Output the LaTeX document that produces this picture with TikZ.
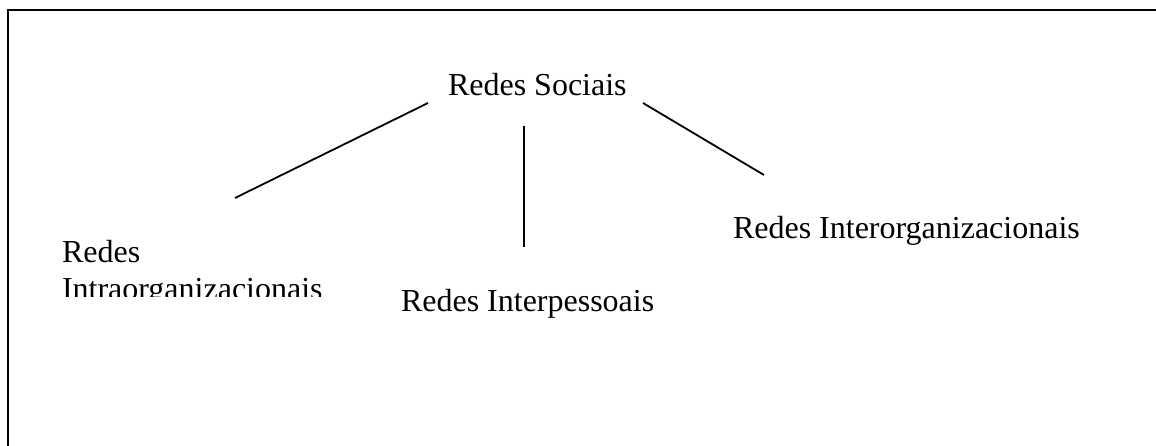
\documentclass[tikz,border=0pt]{standalone}
\usepackage{fontspec}
\setmainfont{Liberation Serif}
\begin{document}
\begin{tikzpicture}[x=1pt,y=-1pt,
  label/.style={inner sep=0pt, outer sep=0pt, anchor=base west,
    font=\fontsize{32}{37}\selectfont},
  link/.style={line width=1.8pt},
  frameline/.style={line width=2pt}]
\useasboundingbox (0,0) rectangle (1156,446);
% open frame: top edge and left edge only
\draw[frameline] (8,446) -- (8,10) -- (1156,10);

% labels
\node[label] (root)  at (448,96)  {Redes Sociais};
\node[label] (inter) at (401,312) {Redes Interpessoais};
\node[label] (interorg) at (733,239) {Redes Interorganizacionais};
\begin{scope}
  % the text box cuts off the lower part of its second line
  \clip (0,0) rectangle (1156,296);
  \node[label, align=left] (intra) at (62,299) {Redes\\Intraorganizacionais};
\end{scope}

% connector end points
\coordinate (r1) at (428,103);
\coordinate (l1) at (235,198);
\coordinate (r2) at (524,126);
\coordinate (l2) at (524,247);
\coordinate (r3) at (643,103);
\coordinate (l3) at (764,175);

\draw[link] (r1) -- (l1);
\draw[link] (r2) -- (l2);
\draw[link] (r3) -- (l3);
\end{tikzpicture}
\end{document}
